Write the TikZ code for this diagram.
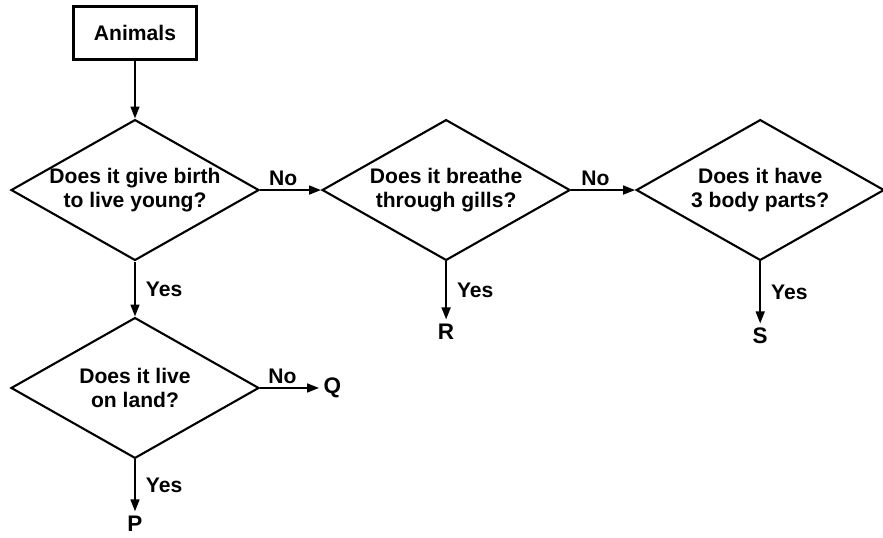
\documentclass[tikz,border=0pt]{standalone}
\usepackage{fontspec}
\setmainfont{Liberation Sans}
\usetikzlibrary{positioning, arrows.meta, shapes.geometric}
\tikzset{
  startbox/.style={
    draw, line width=1.5pt,
    minimum width=3.075cm,
    minimum height=1.325cm,
    font=\fontsize{15}{17}\selectfont\bfseries
  },
  askbox/.style={
    diamond, draw, line width=1.5pt,
    aspect=1.76, inner sep=0pt,
    minimum width=6.2cm, minimum height=3.52cm,
    align=center,
    font=\fontsize{15}{17}\selectfont\bfseries
  },
  flow/.style={
    -{Triangle[length=3mm,width=2.2mm]},
    line width=1.5pt
  },
  branchlabel/.style={
    font=\fontsize{15}{17}\selectfont\bfseries,
    inner sep=2pt
  },
  endlabel/.style={
    font=\fontsize{16}{18}\selectfont\bfseries,
    inner sep=3pt
  }
}

\begin{document}
\begin{tikzpicture}[node distance=1.45cm and 1.525cm]
  \useasboundingbox (0,0) rectangle (22.075,-13.45);
  \node[startbox] (animals) at (3.375,-0.825) {Animals};
  \node[askbox, below=1.45cm of animals] (birth) {Does it give birth\\to live young?};
  \node[askbox, right=1.525cm of birth] (gills) {Does it breathe\\through gills?};
  \node[askbox, right=1.6cm of gills] (parts) {Does it have\\3 body parts?};
  \node[askbox, below=1.375cm of birth] (land) {Does it live\\on land?};

  \node[endlabel, below=1.45cm of gills] (r) {R};
  \node[endlabel, below=1.55cm of parts] (s) {S};
  \node[endlabel, right=1.475cm of land] (q) {Q};
  \node[endlabel, below=1.3cm of land] (p) {P};

  \draw[flow] (animals) -- (birth);
  \draw[flow] (birth) -- node[branchlabel, pos=0.38, above]{No} (gills);
  \draw[flow] (gills) -- node[branchlabel, pos=0.38, above]{No} (parts);
  \draw[flow] (birth) -- node[branchlabel, midway, right=5pt]{Yes} (land);
  \draw[flow] (gills) -- node[branchlabel, midway, right=5pt]{Yes} (r);
  \draw[flow] (parts) -- node[branchlabel, midway, right=5pt]{Yes} (s);
  \draw[flow] (land) -- node[branchlabel, pos=0.38, above]{No} (q);
  \draw[flow] (land) -- node[branchlabel, midway, right=5pt]{Yes} (p);
\end{tikzpicture}
\end{document}
